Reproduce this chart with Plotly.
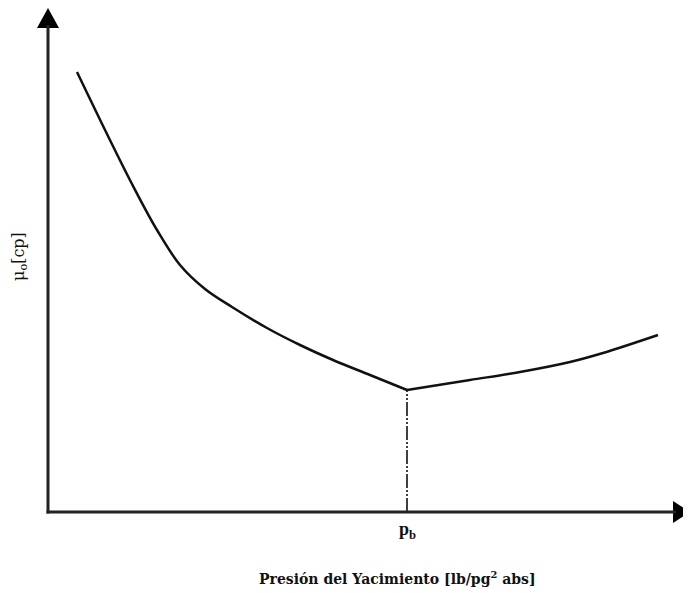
import plotly.graph_objects as go

# Pressure (arbitrary units) and oil viscosity (arbitrary units)
p_below = [29, 59, 84, 109, 132, 157, 184, 219, 252, 285, 322, 359]
mu_below = [440, 378, 328, 282, 247, 223, 205, 184, 167, 152, 137, 122]
p_above = [359, 422, 472, 522, 555, 610]
mu_above = [122, 132, 140, 150, 159, 177]
p_bubble = 359
mu_bubble = 122

x_title = "Presión del Yacimiento [lb/pg<sup>2</sup> abs]"
y_title = "μ<sub>o</sub>[cp]"
pb_label = "p<sub>b</sub>"

XMAX, YMAX = 642, 504
OFF = 8  # page body margin

fig = go.Figure()
fig.add_trace(go.Scatter(x=p_below, y=mu_below, mode="lines", line_shape="spline",
                         line=dict(color="#111", width=2.5, smoothing=1.0), showlegend=False, hoverinfo="skip"))
fig.add_trace(go.Scatter(x=p_above, y=mu_above, mode="lines", line_shape="spline",
                         line=dict(color="#111", width=2.5, smoothing=1.0), showlegend=False, hoverinfo="skip"))
fig.add_trace(go.Scatter(x=[p_bubble, p_bubble], y=[0, mu_bubble], mode="lines",
                         line=dict(color="#111", width=1.6, dash="14px,2px,2px,2px,2px,2px"),
                         showlegend=False, hoverinfo="skip"))

def px2paper(px, py):
    return (px - 48) / XMAX, (512 - py) / YMAX

def tri(pts):
    return "M {} {} L {} {} L {} {} Z".format(*[c for p in pts for c in px2paper(*p)])

shapes = [
    dict(type="path", xref="paper", yref="paper", path=tri([(48, 8), (37, 28), (59, 28)]),
         fillcolor="black", line=dict(color="black", width=0)),
    dict(type="path", xref="paper", yref="paper", path=tri([(690, 512), (673, 501), (673, 523)]),
         fillcolor="black", line=dict(color="black", width=0)),
    dict(type="line", xref="paper", yref="paper", x0=0, y0=-1.5 / YMAX, x1=0, y1=(512 - 25) / YMAX,
         line=dict(color="#222", width=3)),
    dict(type="line", xref="paper", yref="paper", x0=-1.5 / XMAX, y0=0, x1=(676 - 48) / XMAX, y1=0,
         line=dict(color="#222", width=3)),
]

annotations = [
    dict(x=p_bubble, y=0, xref="x", yref="y", text="<b>" + pb_label + "</b>", showarrow=False, yshift=-18,
         font=dict(family="Liberation Serif", size=18, color="#111"), xanchor="center"),
    dict(x=(397 - 48) / XMAX, y=-(578 - 512) / YMAX, xref="paper", yref="paper", text="<b>" + x_title + "</b>",
         showarrow=False, font=dict(family="DejaVu Serif", size=14, color="#111"), xanchor="center", yanchor="middle"),
    dict(x=-(48 - 19) / XMAX, y=(512 - 257) / YMAX, xref="paper", yref="paper", text=y_title, textangle=-90,
         showarrow=False, font=dict(family="DejaVu Serif", size=16, color="#111"), xanchor="center", yanchor="middle"),
]

fig.update_layout(
    width=691 - OFF, height=593 - OFF,
    margin=dict(l=48 - OFF, r=1, t=8 - OFF, b=81),
    paper_bgcolor="white", plot_bgcolor="white",
    xaxis=dict(range=[0, XMAX], visible=False, fixedrange=True),
    yaxis=dict(range=[0, YMAX], visible=False, fixedrange=True),
    shapes=shapes, annotations=annotations,
)
fig.write_html("out.html")
